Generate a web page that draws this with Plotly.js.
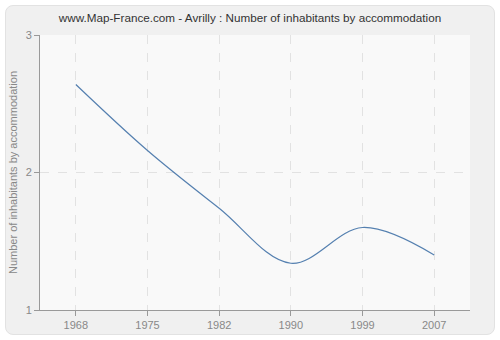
<!DOCTYPE html>
<html>
<head>
<meta charset="utf-8">
<script src="https://cdn.plot.ly/plotly-3.0.1.min.js"></script>
<style>
html,body{margin:0;padding:0;background:#ffffff;}
#frame{position:absolute;left:5px;top:5px;width:488px;height:328px;background:#f0f0f0;border:1px solid #e2e2e2;border-radius:8px;}
#chart{position:absolute;left:0;top:0;width:500px;height:340px;}
</style>
</head>
<body>
<div id="frame"></div>
<div id="chart"></div>
<script>
var years = ["1968", "1975", "1982", "1990", "1999", "2007"];
var inhabitants = [2.64, 2.16, 1.74, 1.34, 1.60, 1.40];
var yTicks = [1, 2, 3];

var trace = {
  x: years,
  y: inhabitants,
  type: "scatter",
  mode: "lines",
  line: {color: "#5580b0", width: 1.2, shape: "spline", smoothing: 1},
  hoverinfo: "none"
};

var layout = {
  width: 500,
  height: 340,
  margin: {l: 40, r: 30, t: 35, b: 30},
  paper_bgcolor: "rgba(0,0,0,0)",
  plot_bgcolor: "#f9f9f9",
  showlegend: false,
  title: {
    text: "www.Map-France.com - Avrilly : Number of inhabitants by accommodation",
    font: {family: "Liberation Sans, Arial, sans-serif", size: 11.7, color: "#333333"},
    x: 0.5, xanchor: "center", y: 0.947, yanchor: "middle"
  },
  xaxis: {
    type: "category",
    range: [-0.5, 5.5],
    showline: true, linecolor: "#999999", linewidth: 1,
    ticks: "outside", ticklen: 5, tickcolor: "#999999",
    showgrid: true, gridcolor: "#e2e2e2", griddash: "dash", gridwidth: 1,
    tickfont: {family: "Liberation Sans, Arial, sans-serif", size: 11, color: "#888888"},
    zeroline: false, fixedrange: true
  },
  yaxis: {
    range: [1, 3],
    tickvals: yTicks,
    ticktext: yTicks.map(String),
    showline: true, linecolor: "#999999", linewidth: 1,
    ticks: "outside", ticklen: 5, tickcolor: "#999999",
    showgrid: true, gridcolor: "#e2e2e2", griddash: "dash", gridwidth: 1,
    tickfont: {family: "Liberation Sans, Arial, sans-serif", size: 11, color: "#888888"},
    title: {text: "Number of inhabitants by accommodation", standoff: 5,
      font: {family: "Liberation Sans, Arial, sans-serif", size: 11, color: "#888888"}},
    zeroline: false, fixedrange: true
  }
};

Plotly.newPlot("chart", [trace], layout, {displayModeBar: false, staticPlot: true});
</script>
</body>
</html>
